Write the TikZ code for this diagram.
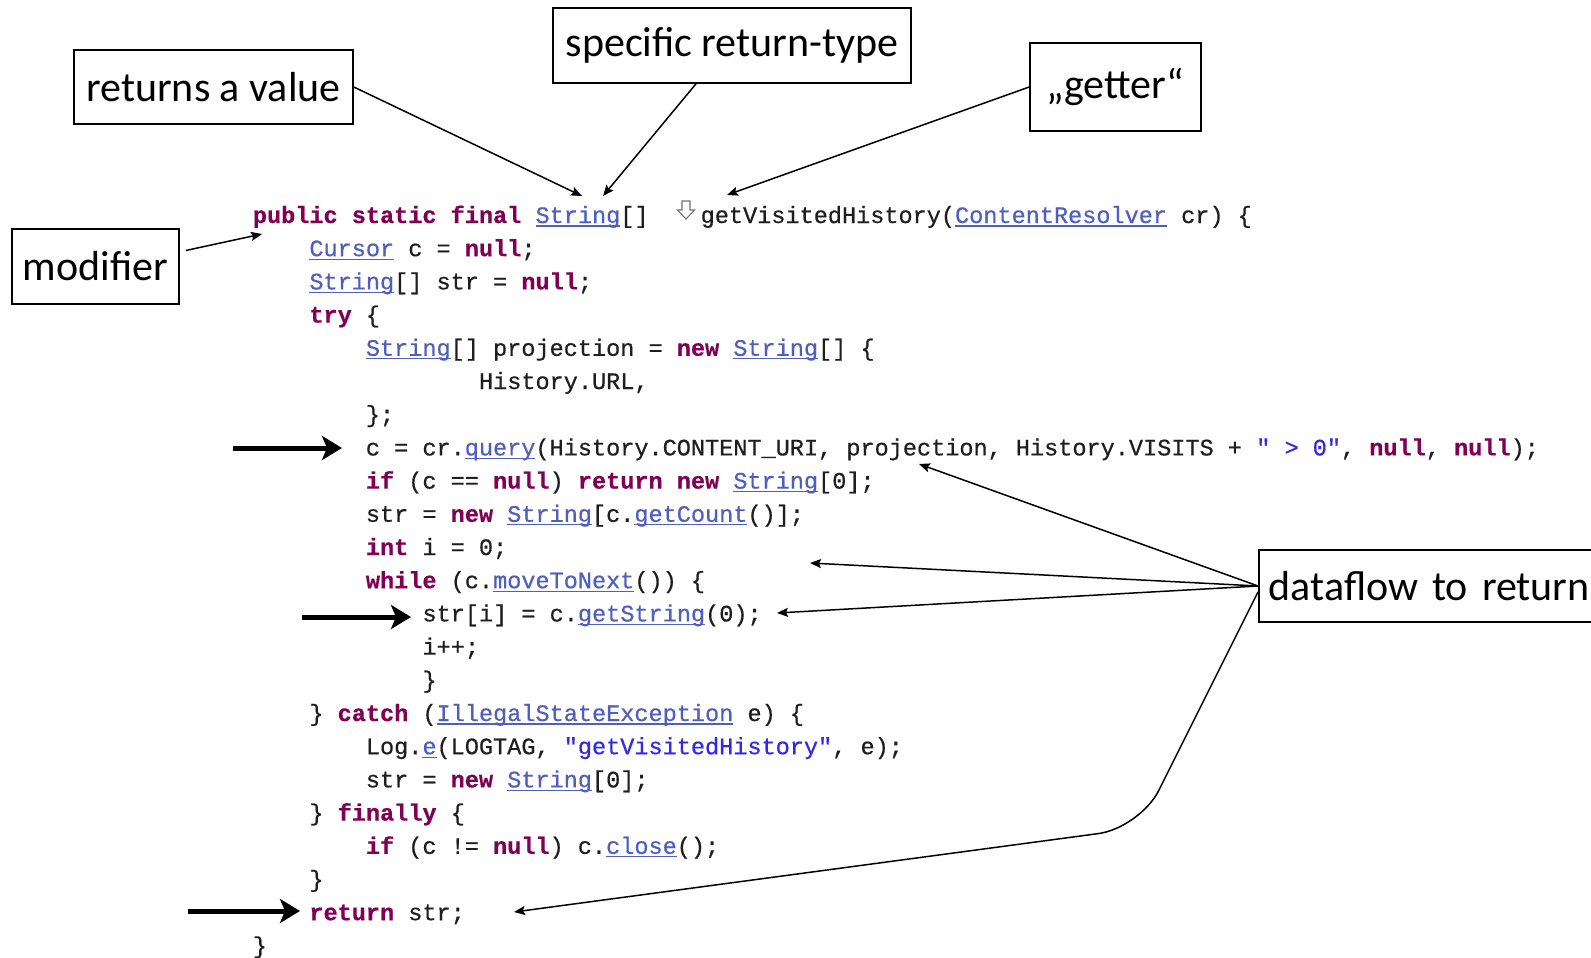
\documentclass[tikz,border=0pt]{standalone}
\usepackage{fontspec}
\setmainfont{Carlito}
\setmonofont[FakeBold=0.6]{Liberation Mono}
\usetikzlibrary{arrows.meta}

\definecolor{kwc}{RGB}{127,0,85}
\definecolor{linkc}{RGB}{80,95,190}
\definecolor{strc}{RGB}{50,40,230}
\definecolor{codec}{RGB}{30,30,30}

% Java syntax colouring
\newlength\clkw
\newcommand\clk[1]{\settowidth\clkw{#1}\rlap{\textcolor{linkc}{\rule[-3.5pt]{\clkw}{1.2pt}}}\textcolor{linkc}{#1}}
\newcommand\ckw[1]{\textcolor{kwc}{\bfseries #1}}
\newcommand\cstr[1]{\textcolor{strc}{#1}}

\begin{document}
\begin{tikzpicture}[x=1pt,y=-1pt,
  code/.style={anchor=base west, inner sep=0pt, font=\ttfamily\fontsize{23.55}{28}\selectfont, text=codec},
  lbl/.style={draw=black, line width=1.6pt, inner sep=0pt, font=\fontsize{42}{50}\selectfont},
  thin/.style={line width=1.5pt, -{Stealth[length=11pt,width=9pt,inset=2pt]}},
  fat/.style={line width=5pt, -{Stealth[length=20pt,width=24pt,inset=5pt]}}]

\useasboundingbox (0,0) rectangle (1591,958);
\clip (0,0) rectangle (1591,958);

% ---- code listing ----
\node[code] (l1)  at (252.7,223.0) {\ckw{public static final} \clk{String}[]};
\node[code] (l1b) at (700.5,223.0) {getVisitedHistory(\clk{ContentResolver} cr) \{};
\node[code] (l2)  at (309.2,256.2) {\clk{Cursor} c = \ckw{null};};
\node[code] (l3)  at (309.2,289.4) {\clk{String}[] str = \ckw{null};};
\node[code] (l4)  at (309.2,322.6) {\ckw{try} \{};
\node[code] (l5)  at (365.7,355.8) {\clk{String}[] projection = \ckw{new} \clk{String}[] \{};
\node[code] (l6)  at (478.8,389.0) {History.URL,};
\node[code] (l7)  at (365.7,422.2) {\};};
\node[code] (l8)  at (365.7,455.4) {c = cr.\clk{query}(History.CONTENT\_URI, projection, History.VISITS + \cstr{" > 0"}, \ckw{null}, \ckw{null});};
\node[code] (l9)  at (365.7,488.6) {\ckw{if} (c == \ckw{null}) \ckw{return} \ckw{new} \clk{String}[0];};
\node[code] (l10) at (365.7,521.8) {str = \ckw{new} \clk{String}[c.\clk{getCount}()];};
\node[code] (l11) at (365.7,555.0) {\ckw{int} i = 0;};
\node[code] (l12) at (365.7,588.2) {\ckw{while} (c.\clk{moveToNext}()) \{};
\node[code] (l13) at (422.3,621.4) {str[i] = c.\clk{getString}(0);};
\node[code] (l14) at (422.3,654.6) {i++;};
\node[code] (l15) at (422.3,687.8) {\}};
\node[code] (l16) at (309.2,721.0) {\} \ckw{catch} (\clk{IllegalStateException} e) \{};
\node[code] (l17) at (365.7,754.2) {Log.\clk{e}(LOGTAG, \cstr{"getVisitedHistory"}, e);};
\node[code] (l18) at (365.7,787.4) {str = \ckw{new} \clk{String}[0];};
\node[code] (l19) at (309.2,820.6) {\} \ckw{finally} \{};
\node[code] (l20) at (365.7,853.8) {\ckw{if} (c != \ckw{null}) c.\clk{close}();};
\node[code] (l21) at (309.2,887.0) {\}};
\node[code] (l22) at (309.2,920.2) {\ckw{return} str;};
\node[code] (l23) at (252.7,953.4) {\}};

% override marker before the method name
\draw[line width=1.1pt, draw=black!55, fill=white, line join=miter]
  (682,201) -- (690,201) -- (690,210) -- (694.5,210) -- (686,219)
  -- (677.5,210) -- (682,210) -- cycle;

% ---- annotation boxes ----
\node[lbl, minimum width=279pt, minimum height=74pt] (ret)  at (213.5,87)   {returns a value};
\node[lbl, minimum width=358pt, minimum height=75pt] (spec) at (732,45.5)   {specific return-type};
\node[lbl, minimum width=171pt, minimum height=88pt] (get)  at (1115.5,87)  {„getter“};
\node[lbl, minimum width=167pt, minimum height=75pt] (mod)  at (95.5,266.5) {modifier};
\node[lbl, minimum width=400pt, minimum height=72pt, anchor=west, align=left, inner xsep=10pt, text width=380pt] (df) at (1258,586) {dataflow to return};

% ---- arrow targets in the listing ----
\coordinate (tRet)    at (582,196);
\coordinate (tSpec)   at (603,196);
\coordinate (tGet)    at (727,195);
\coordinate (tMod)    at (262,234);
\coordinate (tProj)   at (919,464);
\coordinate (tInt)    at (810,563);
\coordinate (tGetStr) at (777,613);
\coordinate (tRetStr) at (514,912);
\coordinate (bend)    at (1140,828);

\coordinate (sA) at (233,448);  \coordinate (eA) at (342,448);
\coordinate (sB) at (302,617);  \coordinate (eB) at (411,617);
\coordinate (sC) at (188,911);  \coordinate (eC) at (300,911);

% ---- connectors ----
\draw[thin] (ret.east) -- (tRet);
\draw[thin] ([xshift=-36pt]spec.south) -- (tSpec);
\draw[thin] (get.west) -- (tGet);
\draw[thin] ([xshift=6pt,yshift=16pt]mod.east) -- (tMod);

\draw[thin] (df.west) -- (tProj);
\draw[thin] (df.west) -- (tInt);
\draw[thin] (df.west) -- (tGetStr);
\draw[thin, rounded corners=42pt] ([yshift=-6pt]df.west) -- (bend) -- (tRetStr);

\draw[fat] (sA) -- (eA);
\draw[fat] (sB) -- (eB);
\draw[fat] (sC) -- (eC);
\end{tikzpicture}
\end{document}
